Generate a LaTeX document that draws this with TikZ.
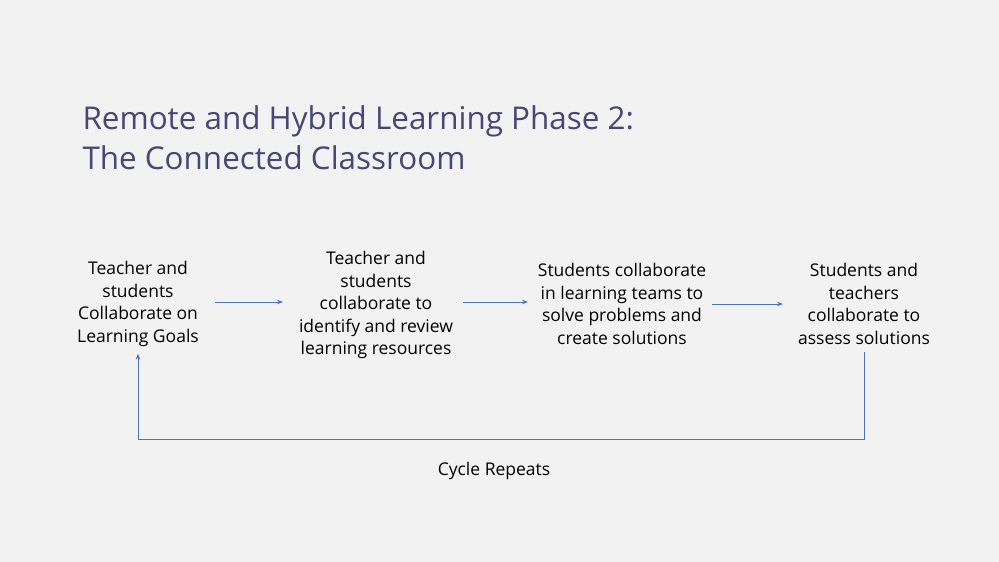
\documentclass[tikz,border=0pt]{standalone}
\usepackage{fontspec}
\setmainfont{Open Sans}
\usetikzlibrary{arrows.meta}
\definecolor{slidebg}{HTML}{F2F2F2}
\definecolor{titleblue}{HTML}{464775}
\definecolor{flowblue}{HTML}{4F74B5}
\tikzset{>={Stealth[length=6pt,width=4.5pt]}}
\tikzset{
  stepbox/.style={align=center, inner xsep=2pt, inner ysep=7pt, font=\fontsize{17.5}{22.5}\selectfont, text=black},
  flow/.style={->, draw=flowblue, line width=0.8pt}
}

\begin{document}
\begin{tikzpicture}[x=1pt,y=-1pt]

  \fill[slidebg] (0,0) rectangle (999,562);
  \useasboundingbox (0,0) rectangle (999,562);

  \node[anchor=west, align=left, text=titleblue, font=\fontsize{31.4}{40}\selectfont] (title) at (79,138)
    {Remote and Hybrid Learning Phase 2:\\The Connected Classroom};

  \node[stepbox] (goals) at (138,304) {Teacher and\\students\\Collaborate on\\Learning Goals};
  \node[stepbox] (resources) at (376,305) {Teacher and\\students\\collaborate to\\identify and review\\learning resources};
  \node[stepbox] (teams) at (622,304) {Students collaborate\\in learning teams to\\solve problems and\\create solutions};
  \node[stepbox] (assess) at (864,304) {Students and\\teachers\\collaborate to\\assess solutions};

  \draw[flow] (215,302) -- (283,302);
  \draw[flow] (463,302) -- (528,302);
  \draw[flow] (712,304) -- (783,304);

  % loop back to the start
  \draw[flow] (assess.south) -- (assess.south |- 0,439) -| (goals.south);
  \node[stepbox] (cycle) at (494,471) {Cycle Repeats};

\end{tikzpicture}
\end{document}
